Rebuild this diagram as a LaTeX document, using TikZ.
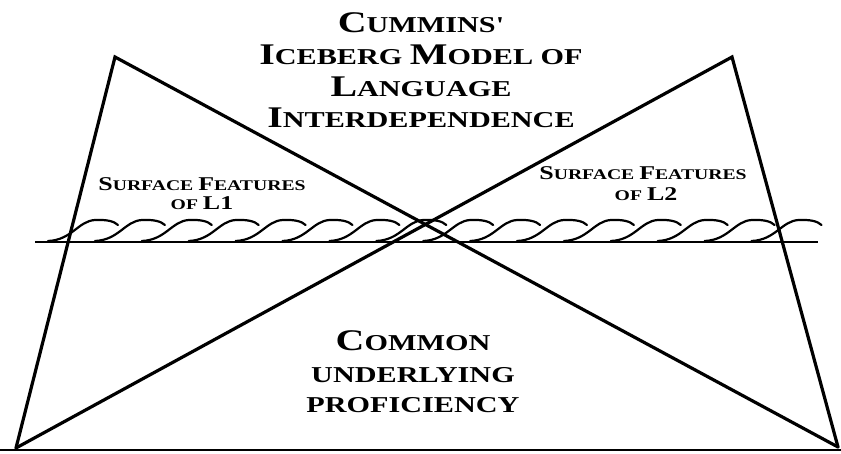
\documentclass[tikz,border=0pt]{standalone}
\usepackage{fontspec}
\newfontfamily\capsfont{Liberation Serif}[FakeStretch=1.33]
\newcommand{\BigCap}{\fontsize{30pt}{30pt}\selectfont}
\newcommand{\SmallCap}{\fontsize{22.7pt}{22.7pt}\selectfont}
\newcommand{\LblBig}{\fontsize{19.5pt}{19.5pt}\selectfont}
\newcommand{\LblSmall}{\fontsize{14.8pt}{14.8pt}\selectfont}
\begin{document}
\begin{tikzpicture}[x=1pt,y=-1pt,
  edge/.style={line width=3.2pt,line join=miter,line cap=round},
  water/.style={line width=2.5pt},
  wave/.style={line width=2.2pt,line cap=round},
  titletext/.style={anchor=base,inner sep=0pt,font=\capsfont\bfseries\SmallCap},
  lbltext/.style={anchor=base,inner sep=0pt,font=\capsfont\bfseries\LblSmall}]
\useasboundingbox (0,0) rectangle (841,453);
\fill[white] (0,0) rectangle (841,453);
% corner points
\coordinate (LA) at (115,57);
\coordinate (RA) at (732,57);
\coordinate (BL) at (16,448);
\coordinate (BR) at (838,447);
\coordinate (WL) at (35,242);
\coordinate (WR) at (818,242);
\coordinate (GL) at (0,450);
\coordinate (GR) at (841,450);
% ground line
\draw[line width=2.5pt] (GL) -- (GR);
% waves
\foreach \i in {0,...,15}{
  \pgfmathsetmacro{\xo}{48+46.9*\i}
  \draw[wave] (\xo,241) .. controls ({\xo+24},240) and ({\xo+30},221) .. ({\xo+47},220)
     .. controls ({\xo+58},219.5) and ({\xo+66},221) .. ({\xo+70},225);
}
% water line
\draw[water] (WL) -- (WR);
% two triangles
\draw[edge] (BL) -- (LA) -- (BR);
\draw[edge] (BR) -- (RA) -- (BL);
% title
\node[titletext] (t1) at (421,32) {{\BigCap C}UMMINS'};
\node[titletext] (t2) at (421,64) {{\BigCap I}CEBERG {\BigCap M}ODEL OF};
\node[titletext] (t3) at (421,96) {{\BigCap L}ANGUAGE};
\node[titletext] (t4) at (421,127) {{\BigCap I}NTERDEPENDENCE};
% surface labels
\node[lbltext] (s1) at (202,190) {{\LblBig S}URFACE {\LblBig F}EATURES};
\node[lbltext] (s2) at (202,209) {OF {\LblBig L1}};
\node[lbltext] (s3) at (643,179) {{\LblBig S}URFACE {\LblBig F}EATURES};
\node[lbltext] (s4) at (646,200) {OF {\LblBig L2}};
% bottom text
\node[titletext] (c1) at (413,350) {{\BigCap C}OMMON};
\node[titletext] (c2) at (413,382) {UNDERLYING};
\node[titletext] (c3) at (413,412) {PROFICIENCY};
\end{tikzpicture}
\end{document}
